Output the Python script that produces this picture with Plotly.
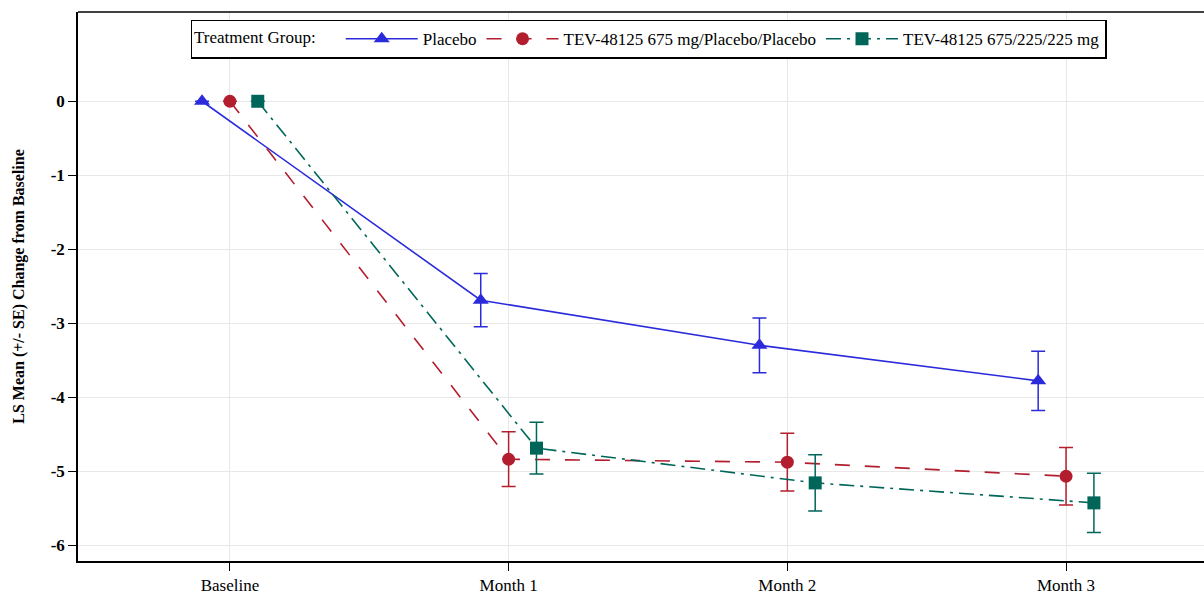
import plotly.graph_objects as go

visits = ["Baseline", "Month 1", "Month 2", "Month 3"]
visit_pos = [0, 1, 2, 3]

groups = ["Placebo", "TEV-48125 675 mg/Placebo/Placebo", "TEV-48125 675/225/225 mg"]
offsets = [-0.1, 0.0, 0.1]

placebo_mean = [0.0, -2.69, -3.30, -3.78]
placebo_se = [0.0, 0.36, 0.37, 0.40]

tev_ppp_mean = [0.0, -4.84, -4.88, -5.07]
tev_ppp_se = [0.0, 0.37, 0.39, 0.39]

tev_675_225_mean = [0.0, -4.69, -5.16, -5.43]
tev_675_225_se = [0.0, 0.35, 0.38, 0.40]

y_ticks = [0, -1, -2, -3, -4, -5, -6]
y_tick_labels = ["0", "-1", "-2", "-3", "-4", "-5", "-6"]

colors = ["#2B2BDB", "#B21E2E", "#00665A"]
symbols = ["triangle-up", "circle", "square"]
dashes = ["solid", "longdash", "longdashdot"]
means = [placebo_mean, tev_ppp_mean, tev_675_225_mean]
ses = [placebo_se, tev_ppp_se, tev_675_225_se]

FONT = "Liberation Serif"

fig = go.Figure()
for name, off, col, sym, dash, m, s in zip(groups, offsets, colors, symbols, dashes, means, ses):
    fig.add_trace(go.Scatter(
        x=[p + off for p in visit_pos], y=m, name=name,
        mode="lines+markers",
        line=dict(color=col, width=1.6, dash=dash),
        marker=dict(symbol=sym, size=13 if sym != "triangle-up" else 14, color=col),
        error_y=dict(type="data", array=s, visible=True, color=col, thickness=1.5, width=7),
    ))

fig.update_layout(
    width=1204, height=597,
    margin=dict(l=78, r=0, t=12, b=36),
    paper_bgcolor="white", plot_bgcolor="white",
    font=dict(family=FONT, size=14, color="black"),
    showlegend=True,
    legend=dict(
        orientation="h", x=0.5067, y=0.986, xanchor="center", yanchor="top",
        title=dict(text="Treatment Group:    ", font=dict(family=FONT, size=17)),
        font=dict(family=FONT, size=17),
        bordercolor="black", borderwidth=1.5, bgcolor="white",
        itemwidth=72, tracegroupgap=0,
    ),
    shapes=[dict(type="line", xref="paper", yref="paper", x0=0, x1=1, y0=1, y1=1,
                 line=dict(color="black", width=1.5))],
)
fig.update_xaxes(
    range=[-0.545, 3.495], tickvals=visit_pos, ticktext=visits,
    showgrid=True, gridcolor="#e8e8e8", gridwidth=1,
    showline=True, linecolor="black", linewidth=1.5, mirror=False,
    ticks="outside", ticklen=8, tickcolor="black",
    tickfont=dict(family=FONT, size=17), zeroline=False,
)
fig.update_yaxes(
    range=[-6.216, 1.207], tickvals=y_ticks, ticktext=y_tick_labels,
    showgrid=True, gridcolor="#e8e8e8", gridwidth=1,
    showline=True, linecolor="black", linewidth=1.5, mirror=False,
    ticks="outside", ticklen=8, tickcolor="black",
    tickfont=dict(family=FONT, size=17, weight="bold"), zeroline=False,
    title=dict(text="<b>LS Mean (+/- SE) Change from Baseline</b>", font=dict(family=FONT, size=16), standoff=22),
)

fig.write_html("out.html")
